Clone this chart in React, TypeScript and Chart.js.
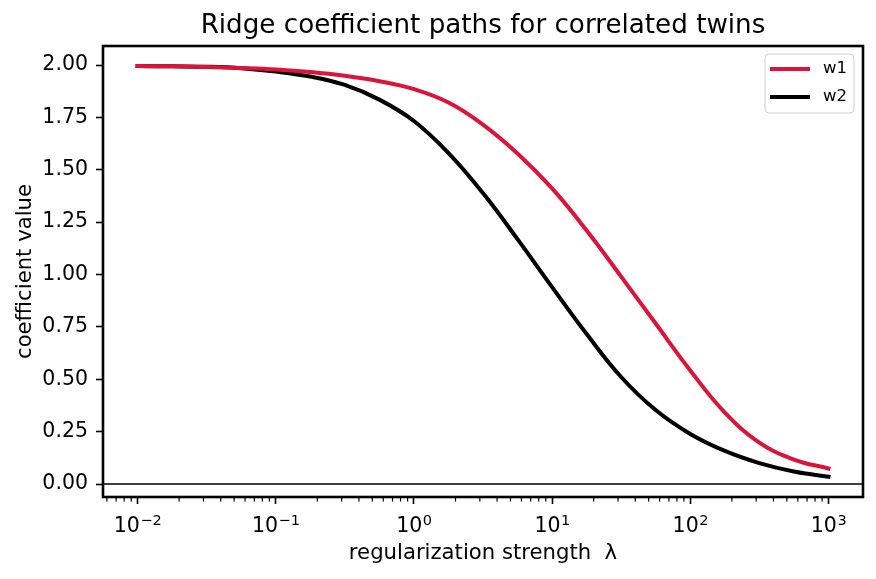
import React, { useEffect, useRef } from "react";
import { Chart, registerables } from "chart.js";

Chart.register(...registerables);

// Regularization strengths (log-spaced, quarter decades)
const lambdaValues = [
  0.01, 0.0178, 0.0316, 0.0562, 0.1, 0.178, 0.316, 0.562, 1, 1.78, 3.16,
  5.62, 10, 17.8, 31.6, 56.2, 100, 178, 316, 562, 1000,
];

// Coefficient paths
const w1Values = [
  1.995, 1.994, 1.991, 1.986, 1.979, 1.967, 1.949, 1.923, 1.885, 1.821, 1.716,
  1.578, 1.411, 1.21, 0.99, 0.766, 0.542, 0.341, 0.198, 0.117, 0.074,
];
const w2Values = [
  1.995, 1.994, 1.992, 1.985, 1.969, 1.945, 1.905, 1.835, 1.733, 1.58, 1.389,
  1.169, 0.94, 0.716, 0.511, 0.353, 0.239, 0.158, 0.1, 0.06, 0.035,
];

const seriesNames = ["w1", "w2"];
const seriesColors = ["#dc143c", "#000000"];

const chartTitle = "Ridge coefficient paths for correlated twins";
const xTickExponents = [-2, -1, 0, 1, 2, 3];
const yTickValues = [0, 0.25, 0.5, 0.75, 1, 1.25, 1.5, 1.75, 2];

const X_MIN = Math.pow(10, -2.25);
const X_MAX = Math.pow(10, 3.25);
const Y_MIN = -0.062;
const Y_MAX = 2.091;

const FONT = '"DejaVu Sans", "Liberation Sans", sans-serif';
const TICK_SIZE = 20.5;

// Title, zero reference line, frame, log tick labels, minor ticks and legend
const framePlugin = {
  id: "frame",
  beforeDatasetsDraw(chart: any) {
    const { ctx, chartArea: ca, scales } = chart;
    const y0 = scales.y.getPixelForValue(0);
    ctx.save();
    ctx.strokeStyle = "#000";
    ctx.lineWidth = 1.6;
    ctx.beginPath();
    ctx.moveTo(ca.left, y0);
    ctx.lineTo(ca.right, y0);
    ctx.stroke();
    ctx.restore();
  },
  afterDraw(chart: any) {
    const { ctx, chartArea: ca, scales } = chart;
    ctx.save();

    // title, centred over the plotting area
    ctx.fillStyle = "#000";
    ctx.font = `26.2px ${FONT}`;
    ctx.textAlign = "center";
    ctx.textBaseline = "alphabetic";
    ctx.fillText(chartTitle, (ca.left + ca.right) / 2, ca.top - 13.5);

    // decade labels with raised exponents
    xTickExponents.forEach((e) => {
      const px = scales.x.getPixelForValue(Math.pow(10, e));
      const base = "10";
      const exp = e < 0 ? "\u2212" + String(-e) : String(e);
      ctx.font = `${TICK_SIZE}px ${FONT}`;
      const wb = ctx.measureText(base).width;
      ctx.font = `14.5px ${FONT}`;
      const we = ctx.measureText(exp).width;
      const x0 = px - (wb + we) / 2;
      const baseY = ca.bottom + 35;
      ctx.textAlign = "left";
      ctx.font = `${TICK_SIZE}px ${FONT}`;
      ctx.fillText(base, x0, baseY);
      ctx.font = `14.5px ${FONT}`;
      ctx.fillText(exp, x0 + wb + 0.5, baseY - 7.5);
    });

    // minor ticks on the log axis
    ctx.strokeStyle = "#000";
    ctx.lineWidth = 1.2;
    for (let e = -3; e <= 3; e++) {
      for (let m = 2; m <= 9; m++) {
        const v = m * Math.pow(10, e);
        if (v < X_MIN || v > X_MAX) continue;
        const px = scales.x.getPixelForValue(v);
        ctx.beginPath();
        ctx.moveTo(px, ca.bottom);
        ctx.lineTo(px, ca.bottom + 4.5);
        ctx.stroke();
      }
    }

    // axes frame
    ctx.lineWidth = 2.6;
    ctx.strokeRect(ca.left, ca.top, ca.right - ca.left, ca.bottom - ca.top);

    // legend
    const boxW = 89;
    const boxH = 59;
    const bx = ca.right - 9 - boxW;
    const by = ca.top + 8;
    ctx.beginPath();
    ctx.roundRect(bx, by, boxW, boxH, 4);
    ctx.fillStyle = "rgba(255,255,255,0.8)";
    ctx.fill();
    ctx.strokeStyle = "#d0d0d0";
    ctx.lineWidth = 1;
    ctx.stroke();
    chart.data.datasets.forEach((ds: any, i: number) => {
      const ly = by + 15 + i * 28;
      ctx.strokeStyle = ds.borderColor;
      ctx.lineWidth = 4;
      ctx.lineCap = "butt";
      ctx.beginPath();
      ctx.moveTo(bx + 5, ly);
      ctx.lineTo(bx + 45, ly);
      ctx.stroke();
      ctx.fillStyle = "#000";
      ctx.font = `16.5px ${FONT}`;
      ctx.textBaseline = "middle";
      ctx.textAlign = "left";
      ctx.fillText(ds.label, bx + 58, ly);
    });
    ctx.restore();
  },
};

export default function App() {
  const canvasRef = useRef<HTMLCanvasElement | null>(null);

  useEffect(() => {
    if (!canvasRef.current) return;
    const makePoints = (vals: number[]) =>
      lambdaValues.map((x, i) => ({ x, y: vals[i] }));

    const chart = new Chart(canvasRef.current, {
      type: "line",
      data: {
        datasets: [w1Values, w2Values].map((vals, i) => ({
          label: seriesNames[i],
          data: makePoints(vals),
          borderColor: seriesColors[i],
          backgroundColor: seriesColors[i],
          borderWidth: 4,
          pointRadius: 0,
          tension: 0.4,
          borderCapStyle: "square" as const,
          borderJoinStyle: "round" as const,
          fill: false,
        })),
      },
      options: {
        responsive: false,
        animation: false,
        devicePixelRatio: 1,
        layout: { padding: { left: 0, right: 13, top: 46, bottom: 0 } },
        plugins: {
          legend: { display: false },
          tooltip: { enabled: false },
          title: { display: false },
        },
        scales: {
          x: {
            type: "logarithmic",
            min: X_MIN,
            max: X_MAX,
            afterBuildTicks: (scale: any) => {
              scale.ticks = xTickExponents.map((e) => ({ value: Math.pow(10, e) }));
            },
            afterFit: (scale: any) => {
              scale.height = 82;
            },
            ticks: {
              autoSkip: false,
              maxRotation: 0,
              color: "#000",
              padding: 6,
              font: { family: FONT, size: TICK_SIZE },
              callback: () => "",
            },
            grid: {
              drawOnChartArea: false,
              drawTicks: true,
              tickLength: 7,
              tickWidth: 1.6,
              tickColor: "#000",
            },
            border: { display: false },
            title: {
              display: true,
              text: "regularization strength  \u03bb",
              color: "#000",
              font: { family: FONT, size: 21.2 },
              padding: { top: 0, bottom: 12.5 },
            },
          },
          y: {
            type: "linear",
            min: Y_MIN,
            max: Y_MAX,
            afterBuildTicks: (scale: any) => {
              scale.ticks = yTickValues.map((v) => ({ value: v }));
            },
            afterFit: (scale: any) => {
              scale.width = 103;
            },
            ticks: {
              color: "#000",
              padding: 8,
              font: { family: FONT, size: TICK_SIZE },
              callback: (v: any) => Number(v).toFixed(2),
            },
            grid: {
              drawOnChartArea: false,
              drawTicks: true,
              tickLength: 7,
              tickWidth: 1.6,
              tickColor: "#000",
            },
            border: { display: false },
            title: {
              display: true,
              text: "coefficient value",
              color: "#000",
              font: { family: FONT, size: 21.2 },
              padding: { top: 12.3, bottom: 0 },
            },
          },
        },
      },
      plugins: [framePlugin],
    } as any);

    return () => chart.destroy();
  }, []);

  return (
    <div style={{ position: "fixed", left: 0, top: 0, width: 876, height: 579, background: "#fff" }}>
      <canvas ref={canvasRef} width={876} height={579} />
    </div>
  );
}
